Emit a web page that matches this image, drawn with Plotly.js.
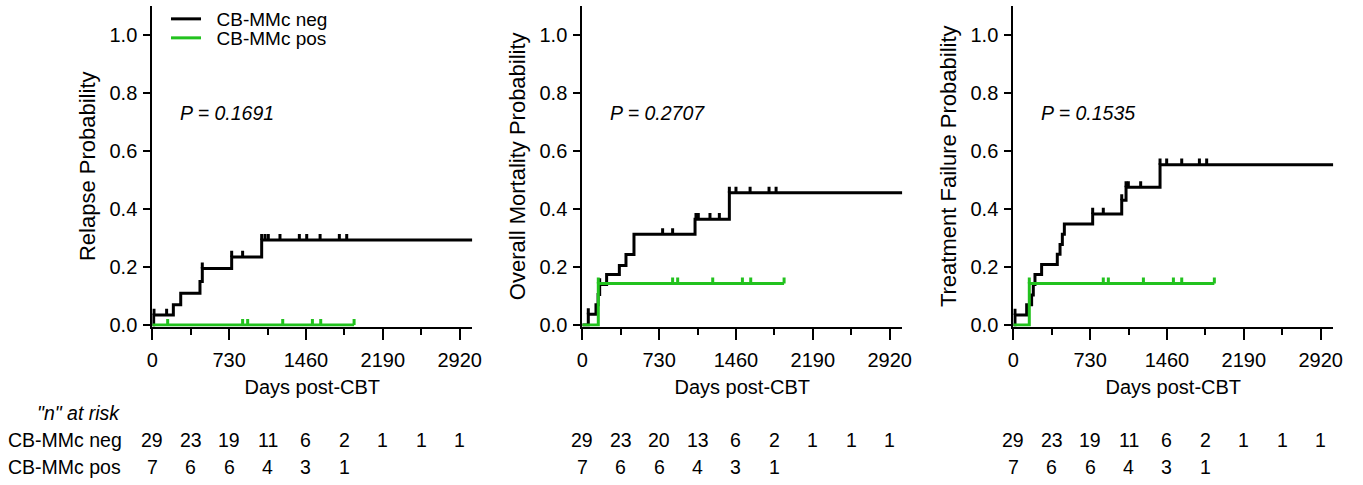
<!DOCTYPE html>
<html><head><meta charset="utf-8">
<script src="https://cdn.plot.ly/plotly-3.0.1.min.js"></script>
<style>html,body{margin:0;padding:0;background:#fff}#chart{width:1363px;height:485px}</style>
</head><body><div id="chart"></div>
<script>
// ---------- data ----------
const panelTitles = ["Relapse Probability", "Overall Mortality Probability", "Treatment Failure Probability"];
const pValues = ["P = 0.1691", "P = 0.2707", "P = 0.1535"];
const groupNames = ["CB-MMc neg", "CB-MMc pos"];
const xTickDays = [0, 730, 1460, 2190, 2920];
const yTickVals = [0, 0.2, 0.4, 0.6, 0.8, 1.0];
const riskDays = [0, 365, 730, 1095, 1460, 1825, 2190, 2555, 2920];

// Relapse
const relNegEventDays = [13, 200, 270, 453, 475, 754, 1039];
const relNegEventProb = [0.035, 0.07, 0.11, 0.15, 0.195, 0.235, 0.293];
const relNegCensorDays = [16, 136, 475, 754, 858, 1039, 1071, 1102, 1213, 1397, 1467, 1594, 1777, 1847];
const relPosEventDays = [];
const relPosEventProb = [];
const relPosCensorDays = [146, 858, 906, 1239, 1521, 1600, 1917];

// Overall mortality
const osNegEventDays = [57, 130, 150, 165, 231, 352, 415, 491, 1071, 1397];
const osNegEventProb = [0.037, 0.07, 0.105, 0.14, 0.174, 0.205, 0.243, 0.313, 0.365, 0.456];
const osNegCensorDays = [57, 165, 763, 858, 1080, 1102, 1213, 1302, 1397, 1460, 1594, 1774, 1841];
const osPosEventDays = [152];
const osPosEventProb = [0.143];
const osPosCensorDays = [152, 858, 906, 1239, 1521, 1600, 1917];

// Treatment failure
const tfNegEventDays = [16, 127, 174, 190, 206, 269, 418, 444, 466, 485, 754, 1030, 1071, 1394];
const tfNegEventProb = [0.035, 0.07, 0.104, 0.14, 0.174, 0.209, 0.244, 0.278, 0.313, 0.348, 0.383, 0.43, 0.475, 0.553];
const tfNegCensorDays = [16, 754, 855, 1030, 1071, 1093, 1210, 1394, 1457, 1600, 1768, 1837];
const tfPosEventDays = [152];
const tfPosEventProb = [0.143];
const tfPosCensorDays = [152, 855, 903, 1236, 1521, 1600, 1910];

const negLastDay = 3040;

// numbers at risk
const relRiskNeg = [29, 23, 19, 11, 6, 2, 1, 1, 1];
const relRiskPos = [7, 6, 6, 4, 3, 1];
const osRiskNeg = [29, 23, 20, 13, 6, 2, 1, 1, 1];
const osRiskPos = [7, 6, 6, 4, 3, 1];
const tfRiskNeg = [29, 23, 19, 11, 6, 2, 1, 1, 1];
const tfRiskPos = [7, 6, 6, 4, 3, 1];

// ---------- build ----------
const FONT = "Liberation Sans, Arial, Helvetica, sans-serif";
const NEG_COLOR = "#000000";
const POS_COLOR = "#22c21e";
const TICK_H = 0.021;

const panels = [
  {neg: [relNegEventDays, relNegEventProb, relNegCensorDays], pos: [relPosEventDays, relPosEventProb, relPosCensorDays], risk: [relRiskNeg, relRiskPos]},
  {neg: [osNegEventDays, osNegEventProb, osNegCensorDays], pos: [osPosEventDays, osPosEventProb, osPosCensorDays], risk: [osRiskNeg, osRiskPos]},
  {neg: [tfNegEventDays, tfNegEventProb, tfNegCensorDays], pos: [tfPosEventDays, tfPosEventProb, tfPosCensorDays], risk: [tfRiskNeg, tfRiskPos]}
];

function stepAt(evDays, evProb, t) {
  let v = 0;
  for (let i = 0; i < evDays.length; i++) if (evDays[i] <= t) v = evProb[i];
  return v;
}

function kmTrace(evDays, evProb, cens, lastDay, color, name, ax, showLegend, legendId) {
  const set = new Set([0, ...evDays, ...cens]);
  if (lastDay != null) set.add(lastDay);
  const xs = Array.from(set).sort((a, b) => a - b);
  const ys = xs.map(t => stepAt(evDays, evProb, t));
  const up = xs.map(t => cens.includes(t) ? TICK_H : 0);
  return {
    type: "scatter", mode: "lines", x: xs, y: ys,
    xaxis: "x" + (ax === 1 ? "" : ax), yaxis: "y" + (ax === 1 ? "" : ax),
    line: {color: color, width: 3, shape: "hv"},
    error_y: {type: "data", symmetric: false, array: up, arrayminus: xs.map(() => 0), width: 0, thickness: 3, color: color},
    name: "\u00A0\u00A0" + name, showlegend: showLegend, legend: legendId, hoverinfo: "skip"
  };
}

const traces = [];
panels.forEach((p, i) => {
  const ax = i + 1;
  traces.push(kmTrace(p.neg[0], p.neg[1], p.neg[2], negLastDay, NEG_COLOR, groupNames[0], ax, i === 0, "legend"));
  traces.push(kmTrace(p.pos[0], p.pos[1], p.pos[2], null, POS_COLOR, groupNames[1], ax, i === 0, "legend2"));
});

const W = 1363, H = 485;
const xDomPx = [[152.3, 472.3], [582.3, 902.3], [1013.3, 1333.3]];
const yDom = [1 - 326.5 / H, 1 - 6 / H];
const legendStyle = {x: 166 / W, xanchor: "left", yanchor: "top", font: {size: 19, family: FONT}, bgcolor: "rgba(0,0,0,0)", itemwidth: 30};

const layout = {
  width: W, height: H, margin: {l: 0, r: 0, t: 0, b: 0},
  paper_bgcolor: "#fff", plot_bgcolor: "#fff",
  font: {family: FONT, size: 20, color: "#000"},
  showlegend: true,
  legend: Object.assign({}, legendStyle, {y: 1}),
  legend2: Object.assign({}, legendStyle, {y: 1 - 19 / H}),
  annotations: [], shapes: []
};

panels.forEach((p, i) => {
  const sfx = i === 0 ? "" : String(i + 1);
  layout["xaxis" + sfx] = {
    domain: [xDomPx[i][0] / W, xDomPx[i][1] / W], range: [0, 3040], anchor: "y" + sfx,
    showgrid: false, zeroline: false, showline: true, linecolor: "#000", linewidth: 2,
    ticks: "outside", tickvals: xTickDays, ticklen: 11, tickwidth: 2, tickcolor: "#000",
    minor: {tickvals: [365, 1095, 1825, 2555], ticks: "outside", ticklen: 6, tickwidth: 2, tickcolor: "#000", showgrid: false},
    tickfont: {size: 20, family: FONT}, ticklabelstandoff: 3,
    title: {text: "Days post-CBT", font: {size: 20, family: FONT}, standoff: 10},
    layer: "below traces", fixedrange: true, automargin: false
  };
  layout["yaxis" + sfx] = {
    domain: yDom, range: [-0.005, 1.1], anchor: "x" + sfx,
    showgrid: false, zeroline: false, showline: true, linecolor: "#000", linewidth: 2,
    ticks: "outside", tickvals: yTickVals, ticktext: yTickVals.map(v => v.toFixed(1)), ticklen: 7, tickwidth: 2, tickcolor: "#000",
    tickfont: {size: 20, family: FONT}, ticklabelstandoff: 2,
    title: {text: panelTitles[i], font: {size: 22, family: FONT}, standoff: 8},
    layer: "below traces", fixedrange: true, automargin: false
  };
  layout.annotations.push({
    xref: "x" + sfx, yref: "y" + sfx, x: 245, y: 0.732, xanchor: "left", yanchor: "middle",
    text: "<i>" + pValues[i] + "</i>", showarrow: false, font: {size: 19.5, family: FONT}
  });
  p.risk.forEach((row, r) => {
    row.forEach((n, k) => {
      layout.annotations.push({
        xref: "x" + sfx, yref: "paper", x: riskDays[k], y: r === 0 ? 1 - 440 / H : 1 - 466.5 / H,
        xanchor: "center", yanchor: "middle", text: String(n), showarrow: false, font: {size: 19.5, family: FONT}
      });
    });
  });
});

layout.annotations.push({xref: "paper", yref: "paper", x: 35 / W, y: 1 - 413 / H, xanchor: "left", yanchor: "middle", text: "<i>\"n\" at risk</i>", showarrow: false, font: {size: 19.5, family: FONT}});
layout.annotations.push({xref: "paper", yref: "paper", x: 6 / W, y: 1 - 440 / H, xanchor: "left", yanchor: "middle", text: groupNames[0], showarrow: false, font: {size: 19.5, family: FONT}});
layout.annotations.push({xref: "paper", yref: "paper", x: 6 / W, y: 1 - 466.5 / H, xanchor: "left", yanchor: "middle", text: groupNames[1], showarrow: false, font: {size: 19.5, family: FONT}});

Plotly.newPlot("chart", traces, layout, {staticPlot: true, displayModeBar: false});
</script>
</body></html>
